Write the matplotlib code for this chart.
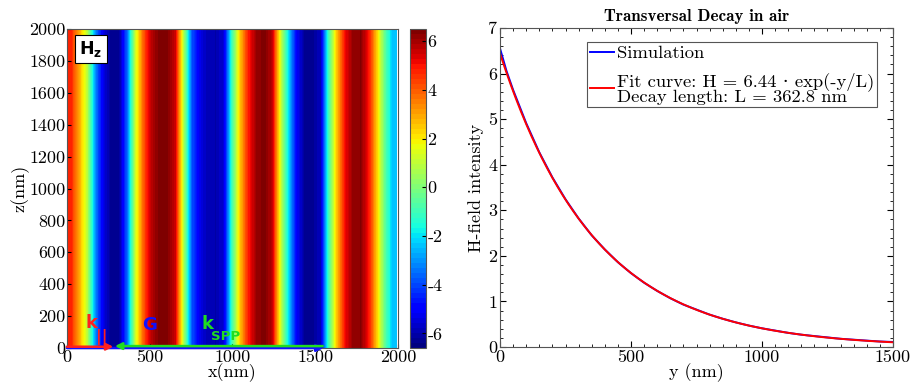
import numpy as np
import matplotlib
matplotlib.use("Agg")
import matplotlib.pyplot as plt
from matplotlib.ticker import MultipleLocator

plt.rcParams['font.family'] = ['cmr10', 'DejaVu Serif']
plt.rcParams['axes.unicode_minus'] = False
plt.rcParams['mathtext.fontset'] = 'dejavusans'
plt.rcParams['font.size'] = 13

# Hz profile along x (field is uniform along z), read every 50 nm
x_nm = np.arange(0, 2001, 50)
hz_profile = [4.8, 3.0, 1.0, -3.0, -5.3, -6.3, -6.2, -3.5, 1.2, 4.0,
              5.8, 6.4, 6.3, 5.5, 0.8, -3.8, -5.3, -5.9, -6.0, -5.5,
              -1.0, 2.5, 4.8, 6.1, 6.4, 5.8, 1.5, -2.0, -5.0, -6.2,
              -6.3, -5.8, -1.0, 2.5, 5.0, 6.2, 6.3, 5.0, 2.5, -0.5, -2.5]
z_nm = [0, 2000]

# decay in air
y_sim = [0, 25, 50, 100, 150, 200, 250, 300, 350, 400, 450, 500, 550, 600,
         650, 700, 750, 800, 850, 900, 950, 1000, 1050, 1100, 1150, 1200,
         1250, 1300, 1350, 1400, 1450, 1500]
h_sim = [6.55, 6.05, 5.64, 4.91, 4.27, 3.72, 3.24, 2.82, 2.45, 2.14, 1.86,
         1.62, 1.41, 1.23, 1.07, 0.93, 0.82, 0.71, 0.62, 0.54, 0.47, 0.41,
         0.36, 0.31, 0.27, 0.24, 0.21, 0.18, 0.16, 0.14, 0.12, 0.11]
fit_amp = 6.44
fit_len = 362.8

fig = plt.figure(figsize=(9.11, 3.89), dpi=100)

# --- left: field map ---
ax = fig.add_axes([0.0735, 0.1054, 0.3634, 0.82])
field = np.tile(np.array(hz_profile), (2, 1))
cmap = plt.get_cmap('jet', 64)
im = ax.imshow(field, extent=[x_nm[0], x_nm[-1] - 10, z_nm[0], z_nm[1]],
               origin='lower', aspect='auto', cmap=cmap, vmin=-6.6, vmax=6.5,
               interpolation='bilinear')
ax.set_xlim(0, 2000)
ax.set_ylim(0, 2000)
ax.set_xticks([0, 500, 1000, 1500, 2000])
ax.set_yticks(np.arange(0, 2001, 200))
ax.tick_params(direction='in', length=3, pad=1)
ax.set_xlabel('x(nm)', labelpad=-1)
ax.set_ylabel('z(nm)', labelpad=0)
for s in ax.spines.values():
    s.set_color('#555555')

# Hz label box
ax.text(75, 1875, r'$\mathbf{H}_\mathbf{z}$', fontsize=12.5, va='center', ha='left',
        bbox=dict(facecolor='white', edgecolor='black', boxstyle='square,pad=0.25', lw=0.8))

# wave vectors at the bottom edge
arr = dict(lw=1.8, mutation_scale=10, shrinkA=0, shrinkB=0)
ax.annotate('', xy=(1550, 0), xytext=(0, 0), annotation_clip=False,
            arrowprops=dict(arrowstyle='-|>', color='#1010ff', **arr))
ax.annotate('', xy=(280, 8), xytext=(0, 8), annotation_clip=False,
            arrowprops=dict(arrowstyle='-|>', color='#ff2020', **arr))
ax.annotate('', xy=(290, 12), xytext=(1545, 12), annotation_clip=False,
            arrowprops=dict(arrowstyle='-|>', color='#20dd20', **arr))
lab = dict(family='DejaVu Sans', fontweight='bold')
ax.text(112, 125, 'k', color='#ff2020', fontsize=13, **lab)
ax.text(175, 45, '||', color='#ff2020', fontsize=11.5, **lab)
ax.text(455, 113, 'G', color='#1010ff', fontsize=13, **lab)
ax.text(815, 118, 'k', color='#20dd20', fontsize=13, **lab)
ax.text(873, 50, 'SPP', color='#20dd20', fontsize=9.5, **lab)

# colorbar
cax = fig.add_axes([0.450, 0.1054, 0.0176, 0.82])
cb = fig.colorbar(im, cax=cax, ticks=[-6, -4, -2, 0, 2, 4, 6])
cb.ax.tick_params(direction='in', length=3, pad=1)
cb.outline.set_edgecolor('#555555')

# --- right: transversal decay ---
ax2 = fig.add_axes([0.5489, 0.108, 0.4313, 0.82])
y_fit = np.linspace(0, 1500, 301)
ax2.plot(y_sim, h_sim, color='#0000ff', lw=1.4, label='Simulation')
ax2.plot(y_fit, fit_amp * np.exp(-y_fit / fit_len), color='#ff0000', lw=1.4,
         label='Fit curve: H = 6.44 · exp(-y/L)\nDecay length: L = 362.8 nm')
ax2.set_xlim(0, 1500)
ax2.set_ylim(0, 7)
ax2.set_xticks([0, 500, 1000, 1500])
ax2.xaxis.set_minor_locator(MultipleLocator(50))
ax2.yaxis.set_minor_locator(MultipleLocator(0.2))
ax2.tick_params(which='both', direction='in', top=True, right=True, pad=2)
ax2.tick_params(which='major', length=4)
ax2.tick_params(which='minor', length=2)
for s in ax2.spines.values():
    s.set_color('#555555')
ax2.set_xlabel('y (nm)', labelpad=-1)
ax2.set_ylabel('H-field intensity', labelpad=3)
ax2.set_title('Transversal Decay in air', family=['cmb10', 'DejaVu Serif'],
              fontsize=12.3, pad=5)
leg = ax2.legend(loc='upper right', bbox_to_anchor=(0.96, 0.955), fontsize=13.4,
                 fancybox=False, framealpha=1, edgecolor='#555555',
                 handlelength=1.3, handletextpad=0.15, borderpad=0.15,
                 labelspacing=0.6, borderaxespad=0)
leg.get_frame().set_linewidth(0.8)
for t in leg.get_texts():
    t.set_linespacing(0.85)

fig.savefig('out.png', dpi=100)
